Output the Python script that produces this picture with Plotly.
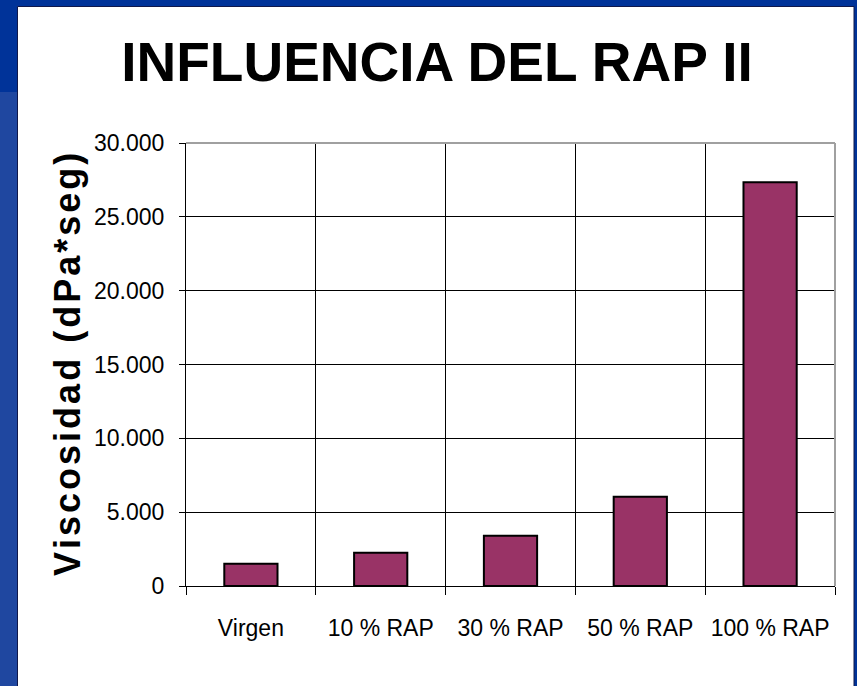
import plotly.graph_objects as go

# data
categorias = ["Virgen", "10 % RAP", "30 % RAP", "50 % RAP", "100 % RAP"]
viscosidad = [1500, 2250, 3400, 6050, 27350]
ticks_y = [0, 5000, 10000, 15000, 20000, 25000, 30000]
ticks_y_txt = ["0", "5.000", "10.000", "15.000", "20.000", "25.000", "30.000"]

W, H = 857, 686
L, R, T, B = 186, 835, 143, 586   # plot area in pixels


def px(x):
    return (x - L) / (R - L)


def py(y):
    return (B - y) / (B - T)


# y title is letter-spaced in the original, hair spaces between the letters
titulo_y = "\u200a".join("Viscosidad (dPa*seg)")

fig = go.Figure()
fig.add_trace(go.Bar(
    x=categorias, y=viscosidad,
    marker=dict(color="#993366", line=dict(color="black", width=2)),
    width=0.41,
))

shapes = [
    # lighter blue strip on the left
    dict(type="rect", xref="paper", yref="paper", x0=px(0), x1=px(18), y0=py(686), y1=py(92),
         fillcolor="#1f47a0", line_width=0, layer="below"),
    # white slide panel
    dict(type="rect", xref="paper", yref="paper", x0=px(17.5), x1=px(854), y0=py(690), y1=py(6.5),
         fillcolor="white", line=dict(color="#10184a", width=1), layer="below"),
    # grey plot area border (top and right)
    dict(type="line", xref="paper", yref="paper", x0=0, x1=1, y0=1, y1=1,
         line=dict(color="#a0a0a0", width=2), layer="above"),
    dict(type="line", xref="paper", yref="paper", x0=1, x1=1, y0=0, y1=1,
         line=dict(color="#a0a0a0", width=2), layer="above"),
]

fig.update_layout(
    width=W, height=H,
    margin=dict(l=L, r=W - R, t=T, b=H - B, autoexpand=False),
    paper_bgcolor="#003399",
    plot_bgcolor="rgba(0,0,0,0)",
    showlegend=False,
    bargap=0.59,
    font=dict(family="Liberation Sans, Arial", color="black"),
    title=dict(
        text="<b>INFLUENCIA DEL RAP II</b>",
        font=dict(family="Liberation Sans, Arial", size=55, color="black"),
        x=437 / W, xanchor="center", xref="container",
        y=1 - 62 / H, yanchor="middle", yref="container",
    ),
    shapes=shapes,
    annotations=[dict(
        text="<b>" + titulo_y + "</b>",
        xref="paper", yref="paper", x=px(67), y=py(365),
        xanchor="center", yanchor="middle", textangle=-90, showarrow=False,
        font=dict(family="Liberation Sans, Arial", size=36, color="black"),
    )],
)

fig.update_xaxes(
    type="category", tickson="boundaries", ticks="outside", ticklen=8,
    tickcolor="black", showgrid=True, gridcolor="black", gridwidth=1,
    showline=True, linecolor="black", linewidth=1,
    tickfont=dict(size=23), tickangle=0, automargin=False, ticklabelstandoff=21,
)
fig.update_yaxes(
    range=[0, 30000], tickvals=ticks_y, ticktext=ticks_y_txt,
    ticks="outside", ticklen=6, tickcolor="black",
    showgrid=True, gridcolor="black", gridwidth=1,
    showline=True, linecolor="black", linewidth=1, zeroline=False,
    tickfont=dict(size=23), automargin=False, ticklabelstandoff=10,
)

# drop the default 8px page margin so the figure fills the window
fig.write_html("out.html", config={"displayModeBar": False},
               post_script="document.body.style.margin='0';")
